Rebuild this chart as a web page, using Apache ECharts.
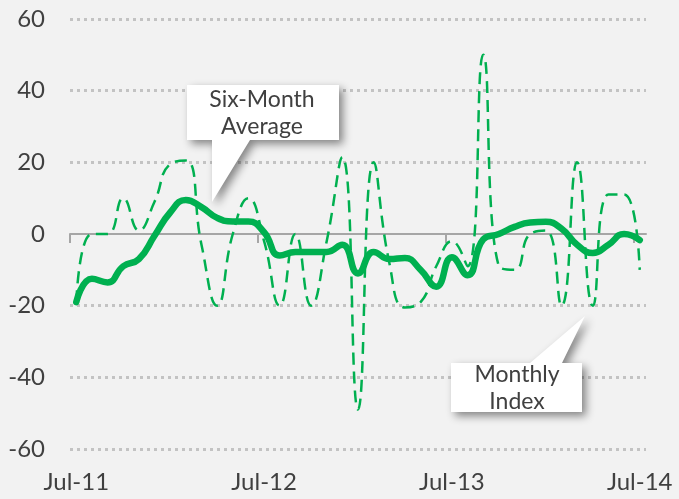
<!DOCTYPE html>
<html>
<head>
<meta charset="utf-8">
<script src="https://cdn.jsdelivr.net/npm/echarts@6.0.0/dist/echarts.min.js"></script>
<style>
  html, body { margin: 0; padding: 0; background: #f2f2f2; }
  #chart { width: 679px; height: 499px; }
</style>
</head>
<body>
<div id="chart"></div>
<script>
// monthly index, Jul-11 .. Jul-14
var monthly = [-19, 0, 0, 10, 1, 9, 19.5, 20.5, -3, -20, 0, 10, -2, -20, 0, -20, -2, 21.5, -49, 20,
  -8, -20.5, -19, -9, -2, -9, 50, -9, -10, 0, 1, -20, 20, -20, 11, 11, -10];
// six-month average
var average = [-19, -12.5, -13.5, -9, -7, -0.5, 6, 9.5, 7.5, 4.5, 3.5, 3.5, 0.5, -6, -5, -5, -5, -3, -11, -5,
  -7, -6.7, -10, -14.7, -6.5, -11.5, -1.5, 0, 2, 3.2, 3.4, 1.5, -3, -5.3, -3, 0, -1.7];
var tickLabels = ["Jul-11", "Jul-12", "Jul-13", "Jul-14"];
var labelIdx = [0, 12, 24, 36];

var font = "Lato";
var green = "#00b050";
var textColor = "#404040";

var chart = echarts.init(document.getElementById("chart"));

var option = {
  backgroundColor: "#f2f2f2",
  animation: false,
  grid: {
    left: 70,
    right: 33,
    top: 19,
    bottom: 50,
    containLabel: false,
    outerBoundsMode: "none",
  },
  xAxis: [
    {
      type: "value",
      min: -0.4,
      max: 36.4,
      position: "bottom",
      axisLine: { show: false, onZero: false },
      axisTick: { show: false },
      splitLine: { show: false },
      axisLabel: {
        customValues: labelIdx,
        formatter: function (v) {
          var k = labelIdx.indexOf(v);
          return k >= 0 ? tickLabels[k] : "";
        },
        fontFamily: font,
        fontSize: 24,
        color: textColor,
        margin: 21,
      },
    },
    {
      // the line through zero
      type: "value",
      min: -0.4,
      max: 36.4,
      position: "top",
      axisLine: {
        show: true,
        onZero: true,
        lineStyle: { color: "#a6a6a6", width: 2 },
      },
      axisTick: {
        show: true,
        inside: true,
        length: 9,
        customValues: labelIdx.map(function (v) { return v - 0.4; }),
        lineStyle: { color: "#a6a6a6", width: 2 },
      },
      axisLabel: { show: false },
      splitLine: { show: false },
    },
  ],
  yAxis: {
    type: "value",
    min: -60,
    max: 60,
    interval: 20,
    axisLine: { show: false },
    axisTick: { show: false },
    axisLabel: {
      fontFamily: font,
      fontSize: 24,
      color: textColor,
      margin: 25,
    },
    splitLine: {
      lineStyle: {
        color: ["#c3c3c3", "#c3c3c3", "#c3c3c3", "transparent", "#c3c3c3", "#c3c3c3", "#c3c3c3"],
        type: [3, 4],
        width: 3,
      },
    },
  },
  series: [
    {
      name: "Monthly Index",
      type: "line",
      smooth: 0.5,
      symbol: "none",
      data: monthly.map(function (v, i) { return [i, v]; }),
      lineStyle: { color: green, width: 2.5, type: [12, 7] },
    },
    {
      name: "Six-Month Average",
      type: "line",
      smooth: 0.5,
      symbol: "none",
      data: average.map(function (v, i) { return [i, v]; }),
      lineStyle: { color: green, width: 6.5, cap: "round", join: "round" },
    },
  ],
  graphic: [
    {
      type: "polygon",
      z: 100,
      shape: {
        points: [[187, 85], [339, 85], [339, 140], [250, 140], [212, 202], [212, 140], [187, 140]],
      },
      style: {
        fill: "#ffffff",
        shadowBlur: 8,
        shadowColor: "rgba(0,0,0,0.45)",
        shadowOffsetX: 4,
        shadowOffsetY: 4,
      },
    },
    {
      type: "text",
      z: 101,
      style: {
        text: "Six-Month\nAverage",
        x: 262,
        y: 113,
        textAlign: "center",
        textVerticalAlign: "middle",
        fontFamily: font,
        fontSize: 23,
        lineHeight: 27,
        fill: textColor,
      },
    },
    {
      type: "polygon",
      z: 100,
      shape: {
        points: [[451, 363], [530, 363], [585, 316], [562, 363], [582, 363], [582, 412], [451, 412]],
      },
      style: {
        fill: "#ffffff",
        shadowBlur: 8,
        shadowColor: "rgba(0,0,0,0.45)",
        shadowOffsetX: 4,
        shadowOffsetY: 4,
      },
    },
    {
      type: "text",
      z: 101,
      style: {
        text: "Monthly\nIndex",
        x: 517,
        y: 388,
        textAlign: "center",
        textVerticalAlign: "middle",
        fontFamily: font,
        fontSize: 23,
        lineHeight: 27,
        fill: textColor,
      },
    },
  ],
};

chart.setOption(option);
</script>
</body>
</html>
